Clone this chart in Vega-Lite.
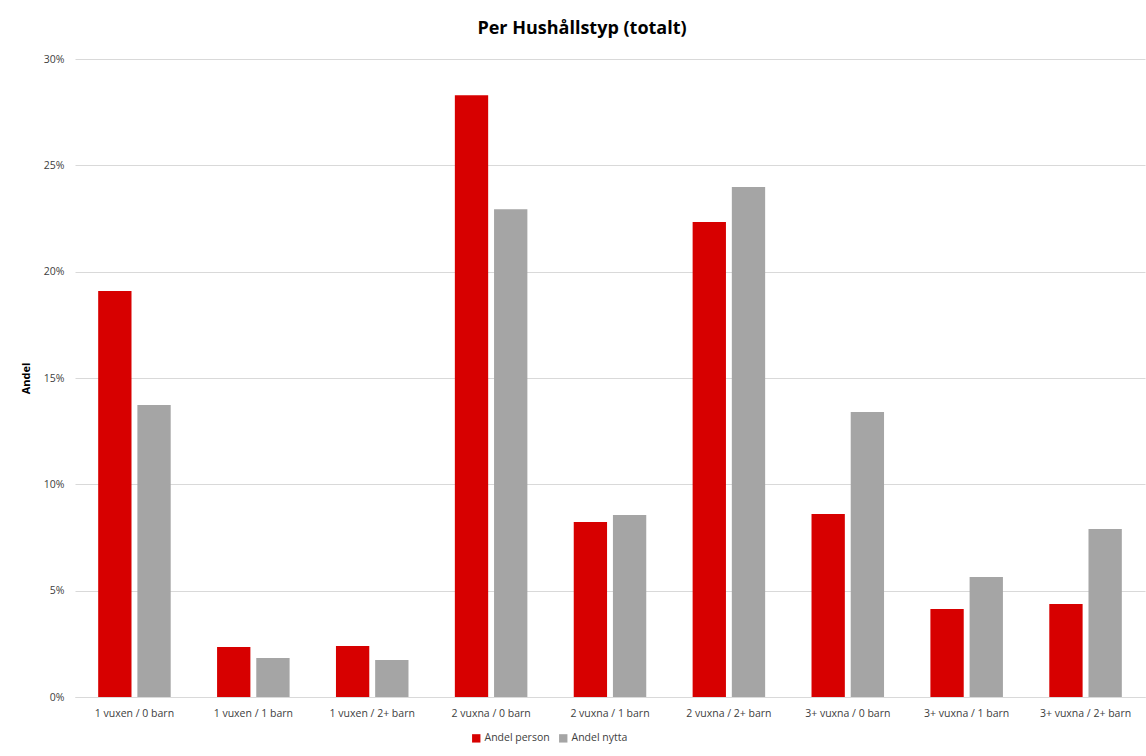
{
  "$schema": "https://vega.github.io/schema/vega-lite/v6.json",
  "width": 1070,
  "height": 638,
  "autosize": {"type": "none"},
  "padding": {"left": 75, "top": 59, "right": 1, "bottom": 59},
  "background": "white",
  "title": {
    "text": "Per Hushållstyp (totalt)",
    "font": "Open Sans",
    "fontSize": 18,
    "fontWeight": "bold",
    "color": "#000000",
    "anchor": "middle",
    "dx": -28,
    "offset": 16
  },
  "data": {
    "values": [
      {"typ": "1 vuxen / 0 barn", "serie": "Andel person", "andel": 0.1909},
      {"typ": "1 vuxen / 0 barn", "serie": "Andel nytta", "andel": 0.1373},
      {"typ": "1 vuxen / 1 barn", "serie": "Andel person", "andel": 0.0235},
      {"typ": "1 vuxen / 1 barn", "serie": "Andel nytta", "andel": 0.0183},
      {"typ": "1 vuxen / 2+ barn", "serie": "Andel person", "andel": 0.0240},
      {"typ": "1 vuxen / 2+ barn", "serie": "Andel nytta", "andel": 0.0174},
      {"typ": "2 vuxna / 0 barn", "serie": "Andel person", "andel": 0.2830},
      {"typ": "2 vuxna / 0 barn", "serie": "Andel nytta", "andel": 0.2294},
      {"typ": "2 vuxna / 1 barn", "serie": "Andel person", "andel": 0.0823},
      {"typ": "2 vuxna / 1 barn", "serie": "Andel nytta", "andel": 0.0856},
      {"typ": "2 vuxna / 2+ barn", "serie": "Andel person", "andel": 0.2233},
      {"typ": "2 vuxna / 2+ barn", "serie": "Andel nytta", "andel": 0.2398},
      {"typ": "3+ vuxna / 0 barn", "serie": "Andel person", "andel": 0.0860},
      {"typ": "3+ vuxna / 0 barn", "serie": "Andel nytta", "andel": 0.1340},
      {"typ": "3+ vuxna / 1 barn", "serie": "Andel person", "andel": 0.0414},
      {"typ": "3+ vuxna / 1 barn", "serie": "Andel nytta", "andel": 0.0564},
      {"typ": "3+ vuxna / 2+ barn", "serie": "Andel person", "andel": 0.0437},
      {"typ": "3+ vuxna / 2+ barn", "serie": "Andel nytta", "andel": 0.0790}
    ]
  },
  "mark": {"type": "bar"},
  "encoding": {
    "x": {
      "field": "typ",
      "type": "nominal",
      "sort": null,
      "scale": {"paddingInner": 0.39, "paddingOuter": 0.195},
      "axis": {
        "title": null,
        "labelAngle": 0,
        "labelFont": "Open Sans",
        "labelFontSize": 10.5,
        "labelColor": "#404040",
        "labelPadding": 11,
        "ticks": false,
        "domainColor": "#d9d9d9",
        "grid": false
      }
    },
    "xOffset": {
      "field": "serie",
      "type": "nominal",
      "sort": ["Andel person", "Andel nytta"],
      "scale": {"paddingInner": 0.15}
    },
    "y": {
      "field": "andel",
      "type": "quantitative",
      "scale": {"domain": [0, 0.3], "nice": false},
      "axis": {
        "title": "Andel",
        "titleFont": "Open Sans",
        "titleFontSize": 11,
        "titleFontWeight": "bold",
        "titleColor": "#000000",
        "titlePadding": 12,
        "format": ".0%",
        "values": [0, 0.05, 0.1, 0.15, 0.2, 0.25, 0.3],
        "labelFont": "Open Sans",
        "labelFontSize": 10.5,
        "labelColor": "#404040",
        "labelPadding": 11,
        "ticks": false,
        "domain": false,
        "gridColor": "#d9d9d9"
      }
    },
    "color": {
      "field": "serie",
      "type": "nominal",
      "sort": ["Andel person", "Andel nytta"],
      "scale": {"domain": ["Andel person", "Andel nytta"], "range": ["#d70000", "#a5a5a5"]},
      "legend": {
        "title": null,
        "orient": "none",
        "direction": "horizontal",
        "legendX": 396,
        "legendY": 674,
        "symbolType": "square",
        "symbolSize": 70,
        "labelFont": "Open Sans",
        "labelFontSize": 10.5,
        "labelColor": "#404040",
        "labelOffset": 3,
        "columnPadding": 8
      }
    }
  },
  "config": {
    "view": {"stroke": null}
  }
}
